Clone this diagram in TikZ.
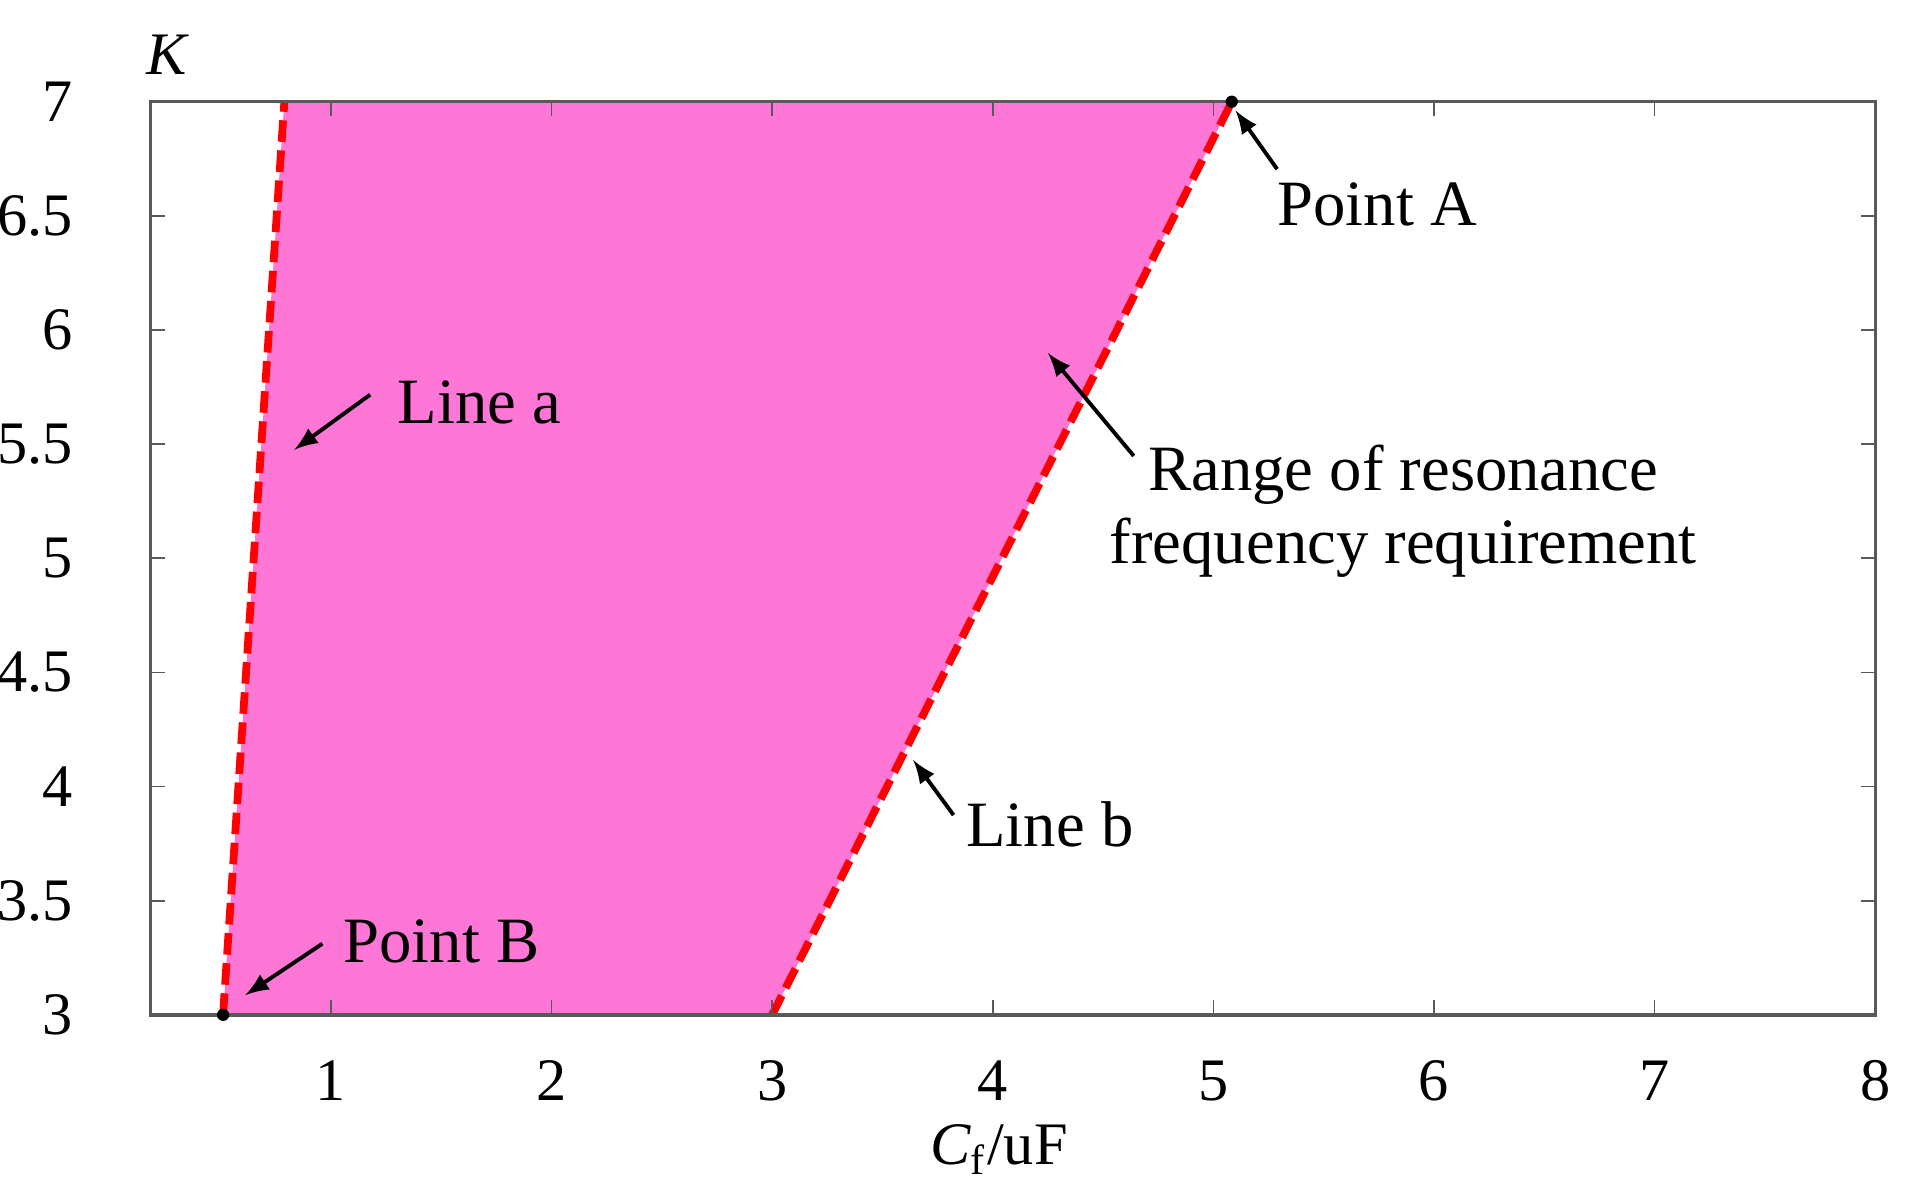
\documentclass[tikz,border=0pt]{standalone}
\usepackage{fontspec}
\setmainfont{Liberation Serif}
\begin{document}
\begin{tikzpicture}[x=0.01cm,y=-0.01cm,
  lbl/.style={font=\fontsize{15}{17}\selectfont},
  tk/.style={font=\fontsize{14}{16}\selectfont},
  ann/.style={-latex,line width=0.9pt},
  bnd/.style={red,dashed,line width=1.8pt,dash pattern=on 5pt off 2pt}]
\useasboundingbox (0,0) rectangle (1560,982);
\definecolor{reg}{HTML}{FF77D6}
% data coords -> px: X=90+180x, Y=83+186.25(7-y)
\coordinate (B) at (182,828);
\coordinate (TL) at (232,83);
\coordinate (A) at (1005,83);
\coordinate (BR) at (630,828);
\fill[reg] (B) -- (TL) -- (A) -- (BR) -- cycle;
\draw[bnd] (B) -- (TL);
\draw[bnd] (BR) -- (A);
\draw[gray!70!black,line width=0.8pt] (123,83) rectangle (1530,828);
\foreach \i in {1,...,8}{
  \pgfmathsetmacro\xx{90+180*\i}
  \draw[gray!70!black] (\xx,828) -- (\xx,816) (\xx,83) -- (\xx,95);
  \node[tk] at (\xx,882) {\i};}
\foreach \v/\t in {3/3,3.5/3.5,4/4,4.5/4.5,5/5,5.5/5.5,6/6,6.5/6.5,7/7}{
  \pgfmathsetmacro\yy{83+186.25*(7-\v)}
  \draw[gray!70!black] (123,\yy) -- (135,\yy) (1530,\yy) -- (1518,\yy);
  \node[tk,anchor=east] at (72,\yy) {\t};}
\node[tk] (K) at (137,45) {\textit{K}};
\node[tk] (xl) at (815,938) {\textit{C}\textsubscript{f}/uF};
\fill (A) circle (5);
\fill (B) circle (5);
\node[lbl,anchor=west] (pa) at (1030,167) {Point A};
\coordinate (pas) at (1042,138);
\draw[ann] (pas) -- (1008,90);
\node[lbl,anchor=west] (la) at (312,328) {Line a};
\coordinate (las) at (302,322);
\draw[ann] (las) -- (240,367);
\node[lbl,align=center] (rg) at (1145,417) {Range of resonance\\frequency requirement};
\coordinate (rgs) at (925,372);
\draw[ann] (rgs) -- (855,288);
\node[lbl,anchor=west] (lb) at (776,673) {Line b};
\coordinate (lbs) at (778,665);
\draw[ann] (lbs) -- (745,620);
\node[lbl,anchor=west] (pb) at (268,768) {Point B};
\coordinate (pbs) at (263,770);
\draw[ann] (pbs) -- (200,812);
\end{tikzpicture}
\end{document}
